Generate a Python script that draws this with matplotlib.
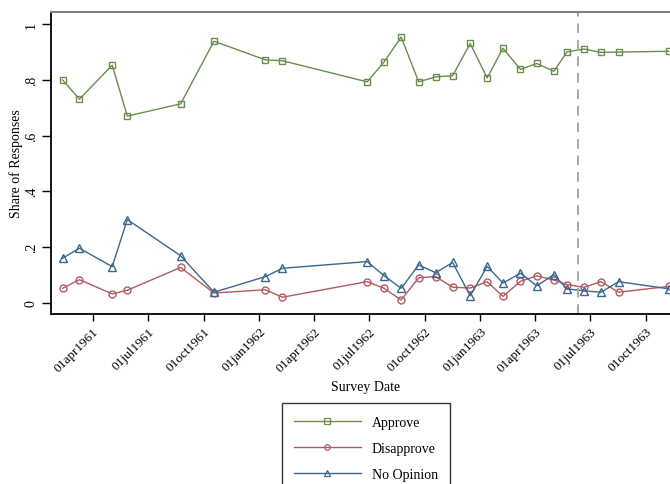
import matplotlib
matplotlib.use('Agg')
import matplotlib.pyplot as plt
import numpy as np
from matplotlib.lines import Line2D

plt.rcParams['font.family'] = ['Liberation Serif', 'DejaVu Serif']

# ---- data ----
dates = ["1961-02-10", "1961-03-10", "1961-05-03", "1961-05-28", "1961-08-24",
         "1961-10-18", "1962-01-11", "1962-02-08", "1962-06-28", "1962-07-26",
         "1962-08-23", "1962-09-21", "1962-10-19", "1962-11-16", "1962-12-15",
         "1963-01-12", "1963-02-07", "1963-03-08", "1963-04-04", "1963-05-02",
         "1963-05-24", "1963-06-21", "1963-07-19", "1963-08-17", "1963-11-08"]
approve = [0.800, 0.731, 0.853, 0.670, 0.714, 0.939, 0.872, 0.869, 0.793, 0.865,
           0.954, 0.793, 0.811, 0.815, 0.931, 0.807, 0.914, 0.838, 0.859, 0.831,
           0.901, 0.911, 0.899, 0.900, 0.903]
disapprove = [0.051, 0.082, 0.031, 0.044, 0.126, 0.034, 0.046, 0.019, 0.075, 0.051,
              0.009, 0.089, 0.093, 0.055, 0.052, 0.075, 0.022, 0.076, 0.096, 0.081,
              0.064, 0.055, 0.075, 0.037, 0.058]
no_opinion = [0.159, 0.195, 0.129, 0.298, 0.168, 0.037, 0.093, 0.123, 0.147, 0.096,
              0.051, 0.135, 0.107, 0.144, 0.024, 0.130, 0.070, 0.105, 0.060, 0.100,
              0.049, 0.042, 0.037, 0.075, 0.049]
tick_dates = ["1961-04-01", "1961-07-01", "1961-10-01", "1962-01-01", "1962-04-01",
              "1962-07-01", "1962-10-01", "1963-01-01", "1963-04-01", "1963-07-01",
              "1963-10-01"]
tick_labels = ["01apr1961", "01jul1961", "01oct1961", "01jan1962", "01apr1962",
               "01jul1962", "01oct1962", "01jan1963", "01apr1963", "01jul1963",
               "01oct1963"]
y_ticks = [0, 0.2, 0.4, 0.6, 0.8, 1.0]
y_tick_labels = ["0", ".2", ".4", ".6", ".8", "1"]
event_date = "1963-06-11"
series_names = ["Approve", "Disapprove", "No Opinion"]

green = '#6b8c4c'
red = '#b35a63'
blue = '#3b678f'

W, H = 670, 485
fig = plt.figure(figsize=(W / 100, H / 100), dpi=100)
ax = fig.add_axes([51 / W, (H - 315) / H, 650 / W, (315 - 13.3) / H])

x = np.array(dates, dtype='datetime64[D]')
common = dict(lw=1.0, mfc='none', mew=1.0)
l1, = ax.plot(x, approve, color=green, marker='s', ms=5, **common)
l2, = ax.plot(x, disapprove, color=red, marker='o', ms=5, **common)
l3, = ax.plot(x, no_opinion, color=blue, marker='^', ms=6, **common)

ax.axvline(np.datetime64(event_date), color='#a8a8a8', ls=(0, (5, 3.5)), lw=1.4)

ax.set_xlim(np.datetime64('1961-01-22'), np.datetime64('1963-12-31'))
ax.set_ylim(-0.0413, 1.043)

ax.set_xticks(np.array(tick_dates, dtype='datetime64[D]'))
ax.set_xticklabels(tick_labels, rotation=45, ha='right', rotation_mode='anchor', fontsize=9.5)
ax.set_yticks(y_ticks)
ax.set_yticklabels(y_tick_labels, rotation=90, va='center', fontsize=10)

ax.tick_params(axis='x', length=5, width=1, pad=3, color='black')
ax.tick_params(axis='y', length=6.5, width=1, pad=3, color='black')

ax.spines['right'].set_visible(False)
ax.spines['top'].set_color('#7f7f7f')
ax.spines['top'].set_linewidth(1.5)
ax.spines['left'].set_linewidth(1.3)
ax.spines['bottom'].set_linewidth(1.3)

fig.text(16 / W, 1 - 164 / H, 'Share of Responses', rotation=90, ha='center', va='center', fontsize=10)
fig.text(366 / W, 1 - 388 / H, 'Survey Date', ha='center', va='center', fontsize=10)

handles = [Line2D([], [], color=c, marker=m, ms=4, mfc='none', mew=0.9, lw=1.0)
           for c, m in zip([green, red, blue], ['s', 'o', '^'])]
leg = fig.legend(handles, series_names, loc='upper center',
                 bbox_to_anchor=(366 / W, 1 - 404 / H), frameon=True, fancybox=False,
                 edgecolor='black', handlelength=4.8, handletextpad=0.8,
                 labelspacing=0.95, borderpad=0.9, borderaxespad=0, numpoints=1,
                 fontsize=10)
leg.get_frame().set_linewidth(1.0)

fig.savefig('out.png', dpi=100)
